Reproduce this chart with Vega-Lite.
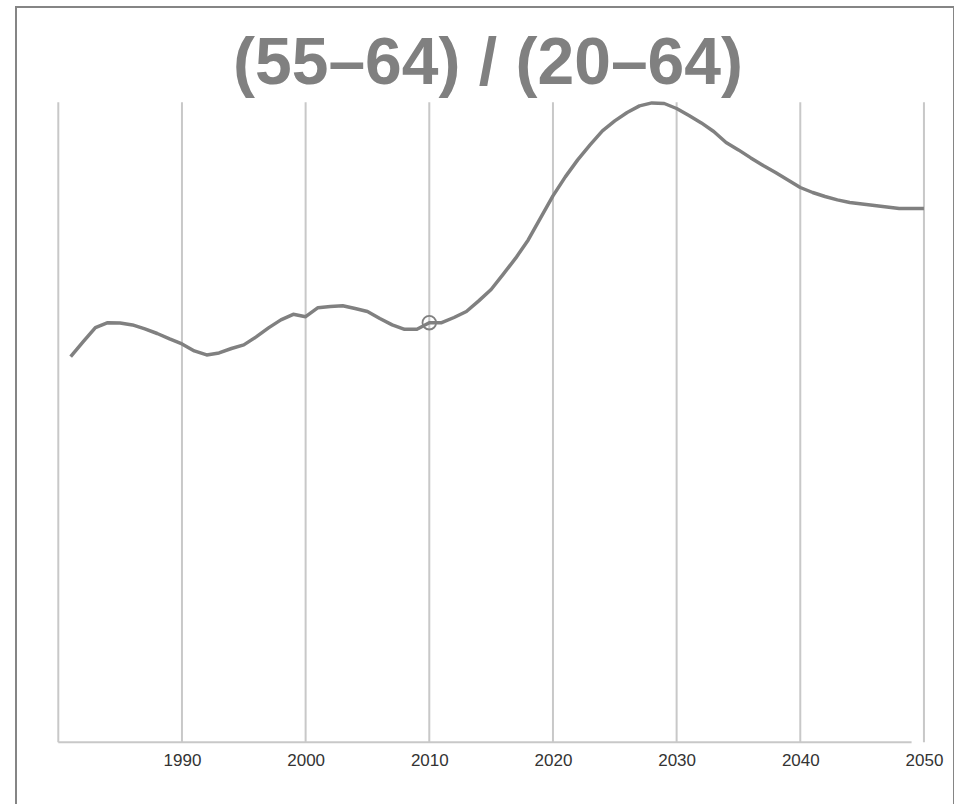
{
  "$schema": "https://vega.github.io/schema/vega-lite/v6.json",
  "autosize": {"type": "none"},
  "padding": {"left": 16, "top": 7, "right": 0, "bottom": 0},
  "width": 938,
  "height": 800,
  "background": "white",
  "title": {
    "text": "(55–64) / (20–64)",
    "font": "Liberation Sans",
    "fontSize": 66,
    "fontWeight": "bold",
    "color": "#808080",
    "baseline": "alphabetic",
    "anchor": "middle",
    "frame": "group",
    "offset": -84.4,
    "dx": 3,
    "dy": 59
  },
  "datasets": {
    "series": [
      {"year": 1981, "value": 0.1928}, {"year": 1982, "value": 0.2002}, {"year": 1983, "value": 0.2073},
      {"year": 1984, "value": 0.2098}, {"year": 1985, "value": 0.2097}, {"year": 1986, "value": 0.2087},
      {"year": 1987, "value": 0.2067}, {"year": 1988, "value": 0.2044}, {"year": 1989, "value": 0.2017},
      {"year": 1990, "value": 0.1992}, {"year": 1991, "value": 0.1957}, {"year": 1992, "value": 0.1937},
      {"year": 1993, "value": 0.1947}, {"year": 1994, "value": 0.1969}, {"year": 1995, "value": 0.1987},
      {"year": 1996, "value": 0.2027}, {"year": 1997, "value": 0.2072}, {"year": 1998, "value": 0.2112},
      {"year": 1999, "value": 0.2140}, {"year": 2000, "value": 0.2128}, {"year": 2001, "value": 0.2173},
      {"year": 2002, "value": 0.2179}, {"year": 2003, "value": 0.2183}, {"year": 2004, "value": 0.2169},
      {"year": 2005, "value": 0.2154}, {"year": 2006, "value": 0.2119}, {"year": 2007, "value": 0.2087},
      {"year": 2008, "value": 0.2065}, {"year": 2009, "value": 0.2065}, {"year": 2010, "value": 0.2098},
      {"year": 2011, "value": 0.2098}, {"year": 2012, "value": 0.2124}, {"year": 2013, "value": 0.2154},
      {"year": 2014, "value": 0.2207}, {"year": 2015, "value": 0.2264}, {"year": 2016, "value": 0.2342},
      {"year": 2017, "value": 0.2422}, {"year": 2018, "value": 0.2512}, {"year": 2019, "value": 0.2622},
      {"year": 2020, "value": 0.2732}, {"year": 2021, "value": 0.2827}, {"year": 2022, "value": 0.2912},
      {"year": 2023, "value": 0.2987}, {"year": 2024, "value": 0.3057}, {"year": 2025, "value": 0.3107},
      {"year": 2026, "value": 0.3149}, {"year": 2027, "value": 0.3182}, {"year": 2028, "value": 0.3197},
      {"year": 2029, "value": 0.3194}, {"year": 2030, "value": 0.3169}, {"year": 2031, "value": 0.3134},
      {"year": 2032, "value": 0.3097}, {"year": 2033, "value": 0.3054}, {"year": 2034, "value": 0.2999},
      {"year": 2035, "value": 0.2962}, {"year": 2036, "value": 0.2922}, {"year": 2037, "value": 0.2884},
      {"year": 2038, "value": 0.2849}, {"year": 2039, "value": 0.2812}, {"year": 2040, "value": 0.2774},
      {"year": 2041, "value": 0.2749}, {"year": 2042, "value": 0.2729}, {"year": 2043, "value": 0.2712},
      {"year": 2044, "value": 0.2699}, {"year": 2045, "value": 0.2692}, {"year": 2046, "value": 0.2684},
      {"year": 2047, "value": 0.2677}, {"year": 2048, "value": 0.2669}, {"year": 2049, "value": 0.2669},
      {"year": 2050, "value": 0.2669}
    ],
    "grid": [
      {"year": 1980, "low": 0, "high": 0.32}, {"year": 1990, "low": 0, "high": 0.32},
      {"year": 2000, "low": 0, "high": 0.32}, {"year": 2010, "low": 0, "high": 0.32},
      {"year": 2020, "low": 0, "high": 0.32}, {"year": 2030, "low": 0, "high": 0.32},
      {"year": 2040, "low": 0, "high": 0.32}, {"year": 2050, "low": 0, "high": 0.32}
    ],
    "baseline": [
      {"start": 1980, "end": 2049, "level": 0}
    ]
  },
  "layer": [
    {
      "data": {"name": "grid"},
      "mark": {"type": "rule", "color": "#c8c8c8", "strokeWidth": 2},
      "encoding": {
        "x": {"field": "year", "type": "quantitative", "scale": {"domain": [1976.58, 2052.43], "nice": false, "zero": false},
              "axis": {"values": [1990, 2000, 2010, 2020, 2030, 2040, 2050], "format": "d", "title": null, "grid": false, "domain": false, "ticks": false, "tickSize": 0, "labelPadding": 0, "labelBaseline": "alphabetic", "offset": -41.5, "labelFont": "Liberation Sans", "labelFontSize": 17, "labelColor": "#333333", "labelFlush": false, "labelOverlap": false}},
        "y": {"field": "low", "type": "quantitative", "scale": {"domain": [-0.03235, 0.36765], "nice": false, "zero": false}, "axis": null},
        "y2": {"field": "high"}
      }
    },
    {
      "data": {"name": "baseline"},
      "mark": {"type": "rule", "color": "#c8c8c8", "strokeWidth": 2},
      "encoding": {
        "x": {"field": "start", "type": "quantitative",
              "axis": {"values": [1990, 2000, 2010, 2020, 2030, 2040, 2050], "format": "d", "title": null, "grid": false, "domain": false, "ticks": false, "tickSize": 0, "labelPadding": 0, "labelBaseline": "alphabetic", "offset": -41.5, "labelFont": "Liberation Sans", "labelFontSize": 17, "labelColor": "#333333", "labelFlush": false, "labelOverlap": false}},
        "x2": {"field": "end"},
        "y": {"field": "level", "type": "quantitative", "axis": null}
      }
    },
    {
      "data": {"name": "series"},
      "mark": {"type": "line", "color": "#808080", "strokeWidth": 3.5, "strokeJoin": "round"},
      "encoding": {
        "x": {"field": "year", "type": "quantitative",
              "axis": {"values": [1990, 2000, 2010, 2020, 2030, 2040, 2050], "format": "d", "title": null, "grid": false, "domain": false, "ticks": false, "tickSize": 0, "labelPadding": 0, "labelBaseline": "alphabetic", "offset": -41.5, "labelFont": "Liberation Sans", "labelFontSize": 17, "labelColor": "#333333", "labelFlush": false, "labelOverlap": false}},
        "y": {"field": "value", "type": "quantitative", "axis": null}
      }
    },
    {
      "data": {"name": "series"},
      "transform": [{"filter": "datum.year == 2010"}],
      "mark": {"type": "point", "shape": "circle", "filled": false, "color": "#808080", "strokeWidth": 1.8, "size": 185, "opacity": 1},
      "encoding": {
        "x": {"field": "year", "type": "quantitative",
              "axis": {"values": [1990, 2000, 2010, 2020, 2030, 2040, 2050], "format": "d", "title": null, "grid": false, "domain": false, "ticks": false, "tickSize": 0, "labelPadding": 0, "labelBaseline": "alphabetic", "offset": -41.5, "labelFont": "Liberation Sans", "labelFontSize": 17, "labelColor": "#333333", "labelFlush": false, "labelOverlap": false}},
        "y": {"field": "value", "type": "quantitative", "axis": null}
      }
    }
  ],
  "config": {
    "view": {"stroke": "#858585", "strokeWidth": 2},
    "font": "Liberation Sans"
  }
}
